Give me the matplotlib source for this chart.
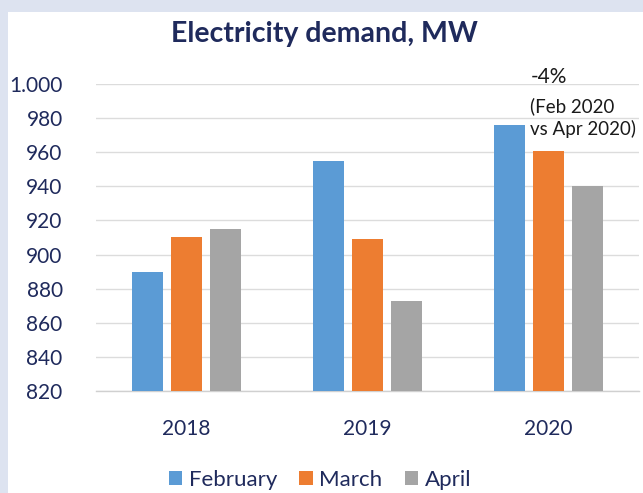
import matplotlib
matplotlib.use("Agg")
import matplotlib.pyplot as plt
import numpy as np

years = ["2018", "2019", "2020"]
months = ["February", "March", "April"]
february = [890, 955, 976]
march = [910, 909, 961]
april = [915, 873, 940]
yticks = [820, 840, 860, 880, 900, 920, 940, 960, 980, 1000]
ytick_labels = ["820", "840", "860", "880", "900", "920", "940", "960", "980", "1.000"]

colors = ["#5b9bd5", "#ed7d31", "#a5a5a5"]
navy = "#1f2a5c"
font = ["Lato", "DejaVu Sans"]
plt.rcParams["font.family"] = font

fig = plt.figure(figsize=(6.43, 4.93), dpi=100)
fig.patch.set_facecolor("#dde3f0")
# white panel behind the chart
panel = plt.Rectangle((8 / 643, 0), 1, 1 - 12 / 493, transform=fig.transFigure,
                      facecolor="white", edgecolor="none", zorder=-10)
fig.patches.append(panel)

ax = fig.add_axes([96 / 643, 1 - 391 / 493, (639 - 96) / 643, (391 - 84) / 493])
ax.set_facecolor("none")
ax.set_zorder(2)

x = np.arange(len(years))
width = 0.17
step = 0.215
series = [february, march, april]
for i, (vals, name) in enumerate(zip(series, months)):
    ax.bar(x + (i - 1) * step, np.array(vals) - 820, width, bottom=820,
           color=colors[i], label=name, zorder=3)

ax.set_xlim(-0.5, 2.5)
ax.set_ylim(820, 1000)
ax.set_yticks(yticks)
ax.set_yticklabels(ytick_labels)
ax.set_xticks(x)
ax.set_xticklabels(years)
ax.grid(axis="y", color="#dcdcdc", linewidth=1, zorder=0)
ax.tick_params(axis="y", length=0, pad=24, labelsize=15, labelcolor=navy)
ax.tick_params(axis="x", length=0, pad=20, labelsize=15, labelcolor=navy)
for s in ["top", "right", "left"]:
    ax.spines[s].set_visible(False)
ax.spines["bottom"].set_color("#d0d0d0")
ax.spines["bottom"].set_linewidth(1)

fig.text(324 / 643, 1 - 34 / 493, "Electricity demand, MW", ha="center", va="center",
         fontsize=20.5, fontweight="bold", color=navy)

note_x = 1.90
ax.text(note_x, 1000.5, "-4%", fontsize=15, color="#1a1a1a",
        ha="left", va="baseline", clip_on=False)
ax.text(note_x, 983.6, "(Feb 2020", fontsize=13.5,
        color="#1a1a1a", ha="left", va="baseline", clip_on=False)
ax.text(note_x, 970.1, "vs Apr 2020)", fontsize=13.5,
        color="#1a1a1a", ha="left", va="baseline", clip_on=False)

leg = fig.legend(loc="center", bbox_to_anchor=(320 / 643, 1 - 480 / 493), ncol=3,
                 frameon=False, fontsize=16, handlelength=0.6, handleheight=0.6,
                 handletextpad=0.3, columnspacing=1.0)
for t in leg.get_texts():
    t.set_color(navy)

fig.savefig("out.png", dpi=100, facecolor=fig.get_facecolor())
